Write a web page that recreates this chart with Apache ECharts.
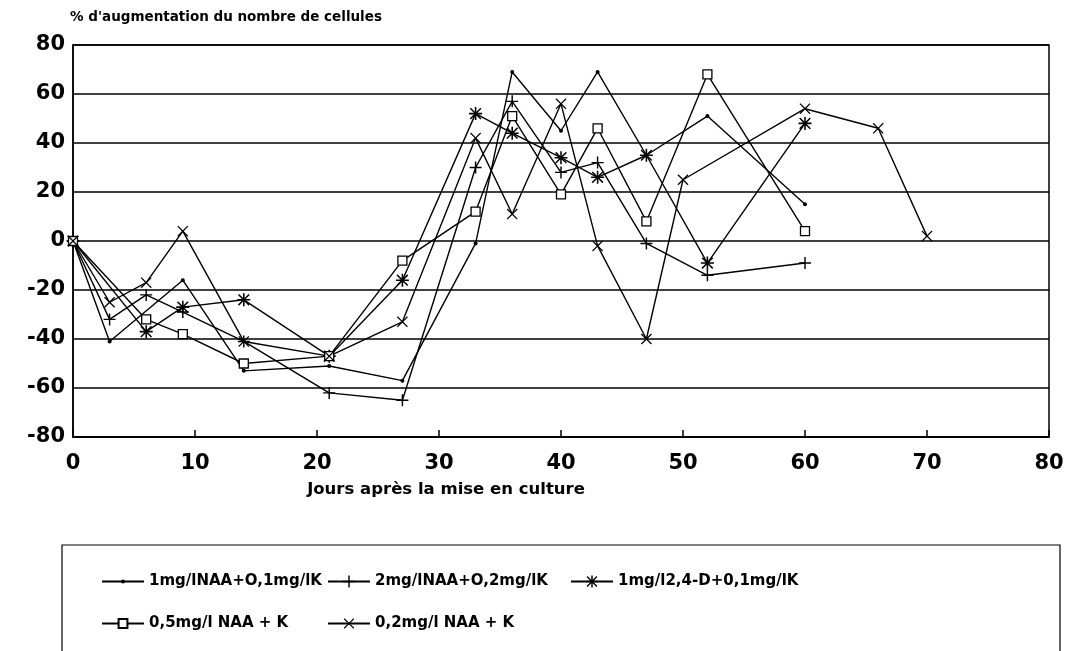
<!DOCTYPE html>
<html>
<head>
<meta charset="utf-8">
<script src="https://cdn.jsdelivr.net/npm/echarts@6/dist/echarts.min.js"></script>
<style>
  html, body { margin: 0; padding: 0; background: #fff; }
  #chart { width: 1072px; height: 651px; }
</style>
</head>
<body>
<div id="chart"></div>
<script>
// noms des traitements (légende)
var names = ['1mg/lNAA+O,1mg/lK', '2mg/lNAA+O,2mg/lK', '1mg/l2,4-D+0,1mg/lK', '0,5mg/l NAA + K', '0,2mg/l NAA + K'];

// jours / % d'augmentation
var daysA = [0, 3, 9, 14, 21, 27, 33, 36, 40, 43, 47, 52, 60];
var valsA = [0, -41, -16, -53, -51, -57, -1, 69, 45, 69, 35, 51, 15];

var daysB = [0, 3, 6, 9, 14, 21, 27, 33, 36, 40, 43, 47, 52, 60];
var valsB = [0, -32, -22, -29, -41, -62, -65, 30, 57, 28, 32, -1, -14, -9];

var daysC = [0, 6, 9, 14, 21, 27, 33, 36, 40, 43, 47, 52, 60];
var valsC = [0, -37, -27, -24, -47, -16, 52, 44, 34, 26, 35, -9, 48];

var daysD = [0, 6, 9, 14, 21, 27, 33, 36, 40, 43, 47, 52, 60];
var valsD = [0, -32, -38, -50, -47, -8, 12, 51, 19, 46, 8, 68, 4];

var daysE = [0, 3, 6, 9, 14, 21, 27, 33, 36, 40, 43, 47, 50, 60, 66, 70];
var valsE = [0, -25, -17, 4, -41, -47, -33, 42, 11, 56, -2, -40, 25, 54, 46, 2];

var xTicks = [0, 80, 10];   // min, max, interval
var yTicks = [-80, 80, 20];

var FONT = '"DejaVu Sans", "Liberation Sans", sans-serif';

// symboles
var plusPath = 'path://M0,4.4H10V5.6H0Z M4.4,0H5.6V10H4.4Z';
var crossPath = 'path://M0.8,0L5,4.2L9.2,0L10,0.8L5.8,5L10,9.2L9.2,10L5,5.8L0.8,10L0,9.2L4.2,5L0,0.8Z';
var starPath = 'path://M0,4.4H10V5.6H0Z M4.4,0H5.6V10H4.4Z M1.3,0.5L5,4.2L8.7,0.5L9.5,1.3L5.8,5L9.5,8.7L8.7,9.5L5,5.8L1.3,9.5L0.5,8.7L4.2,5L0.5,1.3Z';

function pairs(days, vals) {
  var out = [];
  for (var i = 0; i < days.length; i++) {
    out.push([days[i], vals[i]]);
  }
  return out;
}

function makeSeries(name, days, vals, symbol, size, fill) {
  return {
    name: name,
    type: 'line',
    data: pairs(days, vals),
    symbol: symbol,
    symbolSize: size,
    showAllSymbol: true,
    lineStyle: { color: '#000', width: 1.4 },
    itemStyle: { color: fill, borderColor: '#000', borderWidth: fill === '#fff' ? 1.3 : 0 },
    emphasis: { disabled: true },
    animation: false
  };
}

// une légende par entrée, la hauteur règle la taille du symbole (80 %)
var legendBase = function (name, left, center, h) {
  return {
    data: [name],
    left: left,
    top: center - 9,
    itemWidth: 42,
    itemHeight: h,
    selectedMode: false,
    textStyle: { fontFamily: FONT, fontWeight: 'bold', fontSize: 15, color: '#000' }
  };
};

var chart = echarts.init(document.getElementById('chart'));

var option = {
  backgroundColor: '#fff',
  animation: false,
  grid: {
    left: 73, right: 23, top: 45, bottom: 214,
    show: true, borderColor: '#000', borderWidth: 1.5
  },
  xAxis: {
    type: 'value',
    min: xTicks[0], max: xTicks[1], interval: xTicks[2],
    axisLine: { show: true, onZero: false, lineStyle: { color: '#000', width: 1.5 } },
    axisTick: { show: true, inside: true, length: 7, lineStyle: { color: '#000', width: 1.5 } },
    splitLine: { show: false },
    axisLabel: { margin: 16, color: '#000', fontFamily: FONT, fontWeight: 'bold', fontSize: 21 }
  },
  yAxis: {
    type: 'value',
    min: yTicks[0], max: yTicks[1], interval: yTicks[2],
    axisLine: { show: true, lineStyle: { color: '#000', width: 1.5 } },
    axisTick: { show: false },
    splitLine: { show: true, lineStyle: { color: '#000', width: 1.5 } },
    axisLabel: { margin: 8, color: '#000', fontFamily: FONT, fontWeight: 'bold', fontSize: 21 }
  },
  legend: [
    legendBase(names[0], 96, 578, 5),
    legendBase(names[1], 322, 578, 15),
    legendBase(names[2], 565, 578, 15),
    legendBase(names[3], 96, 620, 11),
    legendBase(names[4], 322, 620, 13)
  ],
  graphic: [
    {
      type: 'text', x: 70, y: 10,
      style: { text: "% d'augmentation du nombre de cellules", fill: '#000',
               font: 'bold 13.5px ' + FONT }
    },
    {
      type: 'text', x: 446, y: 490,
      style: { text: 'Jours après la mise en culture', fill: '#000',
               font: 'bold 16.5px ' + FONT, align: 'center', verticalAlign: 'middle' }
    },
    {
      type: 'rect',
      shape: { x: 62, y: 545, width: 998, height: 130 },
      style: { fill: 'none', stroke: '#000', lineWidth: 1.2 }
    }
  ],
  series: [
    makeSeries(names[0], daysA, valsA, 'circle', 4, '#000'),
    makeSeries(names[1], daysB, valsB, plusPath, 12, '#000'),
    makeSeries(names[2], daysC, valsC, starPath, 13, '#000'),
    makeSeries(names[3], daysD, valsD, 'rect', 9, '#fff'),
    makeSeries(names[4], daysE, valsE, crossPath, 11, '#000')
  ]
};

chart.setOption(option);
</script>
</body>
</html>
